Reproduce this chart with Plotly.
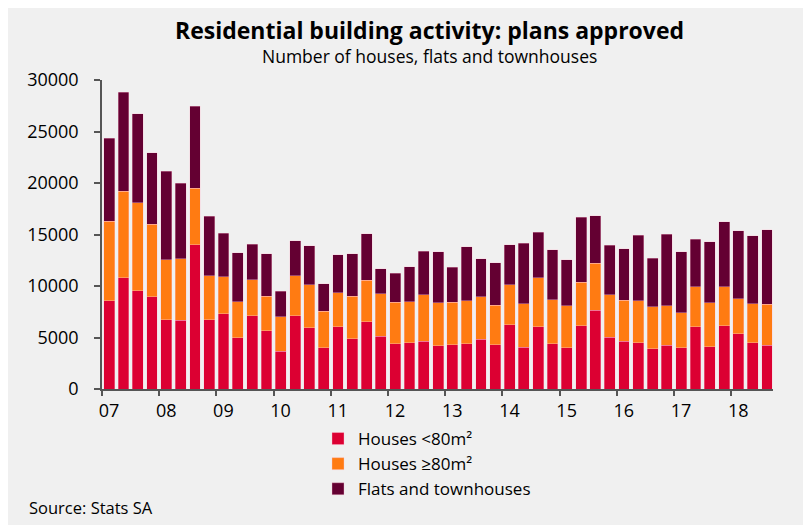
import plotly.graph_objects as go

quarters = [f"{y}Q{q}" for y in range(2007, 2019) for q in range(1, 5)][:47]

houses_small = [8552, 10787, 9524, 8973, 6738, 6673, 14026, 6738,
                7320, 4989, 7126, 5668, 3660, 7126, 5928, 4016,
                6058, 4891, 6511, 5117, 4405, 4502, 4632, 4211,
                4308, 4405, 4826, 4276, 6220, 4049, 6058, 4405,
                4016, 6122, 7644, 5020, 4632, 4502, 3919, 4243,
                4016, 6025, 4113, 6155, 5345, 4502, 4243]
houses_large = [7742, 8390, 8583, 7030, 5831, 5993, 5442, 4275,
                3564, 3498, 3467, 3338, 3337, 3855, 4211, 3531,
                3304, 4115, 4049, 4115, 4017, 3985, 4503, 4179,
                4114, 4179, 4147, 3855, 3919, 4211, 4761, 4276,
                4050, 4243, 4568, 4147, 3984, 4050, 4082, 3855,
                3370, 3887, 4277, 3757, 3433, 3791, 3985]
flats = [8066, 9653, 8618, 6931, 8551, 7288, 8001, 5767,
         4244, 4729, 3465, 4113, 2494, 3402, 3758, 2657,
         3660, 4113, 4503, 2430, 2819, 3402, 4243, 4956,
         3402, 5216, 3660, 4114, 3887, 5895, 4406, 4827,
         4470, 6318, 4633, 4795, 4989, 6381, 4697, 6932,
         5960, 4632, 5895, 6317, 6576, 6575, 7223]

year_ticks = list(range(2007, 2019))
year_labels = [f"{y % 100:02d}" for y in year_ticks]
y_ticks = [0, 5000, 10000, 15000, 20000, 25000, 30000]
y_labels = [str(v) for v in y_ticks]

series_names = ["Houses <80m²", "Houses ≥80m²", "Flats and townhouses"]
colors = ["#dc0032", "#ff7b12", "#640032"]

x = [int(q[:4]) + (int(q[-1]) - 0.5) / 4 for q in quarters]

W, H = 811, 525
OFF = 8  # page offset of the figure in the browser window
l, r, t, b = 102 - OFF, 38 + OFF, 80 - OFF, 136 + OFF

fig = go.Figure()
for name, vals, col in zip(series_names, [houses_small, houses_large, flats], colors):
    fig.add_trace(go.Bar(
        x=x, y=vals, name=name, width=0.19,
        marker=dict(color=col, line=dict(color="rgba(255,200,215,0.6)", width=0.6)),
    ))

def cx(px):
    return (px - OFF) / W
def cy(py):
    return 1 - (py - OFF) / H

fig.update_layout(
    barmode="stack",
    width=W, height=H,
    margin=dict(l=l, r=r, t=t, b=b, autoexpand=False),
    paper_bgcolor="#f0f0f0", plot_bgcolor="#f0f0f0",
    font=dict(family="Open Sans", color="#000000", size=16),
    showlegend=True,
    legend=dict(
        xref="container", yref="container",
        x=cx(318), xanchor="left", y=cy(421), yanchor="top",
        orientation="v", traceorder="normal",
        bgcolor="rgba(0,0,0,0)", font=dict(size=17),
        itemwidth=30, tracegroupgap=0,
    ),
    annotations=[
        dict(text="<b>Residential building activity: plans approved</b>",
             x=cx(429), y=cy(30), xref="paper", yref="paper", showarrow=False,
             font=dict(size=23), xanchor="center", yanchor="middle"),
        dict(text="Number of houses, flats and townhouses",
             x=cx(429), y=cy(56), xref="paper", yref="paper", showarrow=False,
             font=dict(size=17.5), xanchor="center", yanchor="middle"),
        dict(text="Source: Stats SA",
             x=cx(27), y=cy(507), xref="paper", yref="paper", showarrow=False,
             font=dict(size=16.5), xanchor="left", yanchor="middle"),
    ],
)

# convert annotation container positions to paper coordinates
pw, ph = W - l - r, H - t - b
for a in fig.layout.annotations:
    px_ = a.x * W
    py_ = (1 - a.y) * H
    a.x = (px_ - l) / pw
    a.y = (H - b - py_) / ph

fig.update_xaxes(
    range=[2007, 2018.73],
    tickmode="array", tickvals=year_ticks, ticktext=year_labels,
    ticks="outside", ticklen=5, tickcolor="#555555", tickwidth=1.5,
    ticklabelshift=7,
    showline=True, linecolor="#555555", linewidth=1.5,
    showgrid=False, zeroline=False,
    tickfont=dict(size=18),
)
fig.update_yaxes(
    range=[0, 30000],
    tickmode="array", tickvals=y_ticks, ticktext=y_labels,
    ticks="outside", ticklen=6, tickcolor="#555555", tickwidth=1.5,
    showline=True, linecolor="#555555", linewidth=1.5,
    showgrid=False, zeroline=False,
    tickfont=dict(size=18), ticklabelstandoff=12,
)

fig.write_html("out.html")
